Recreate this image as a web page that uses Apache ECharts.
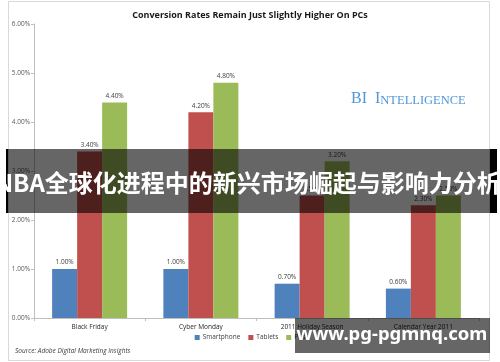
<!DOCTYPE html>
<html><head><meta charset="utf-8">
<script src="https://cdn.jsdelivr.net/npm/echarts@6/dist/echarts.min.js"></script>
<style>html,body{margin:0;padding:0;background:#fff}#c{width:500px;height:362px}</style>
</head><body><div id="c"></div>
<script>
const categories = ['Black Friday', 'Cyber Monday', '2011 Holiday Season', 'Calendar Year 2011'];
const smartphone = [1.0, 1.0, 0.7, 0.6];
const tablets = [3.4, 4.2, 2.5, 2.3];
const pcs = [4.4, 4.8, 3.2, 2.5];
const yTicks = [0, 1, 2, 3, 4, 5, 6];
const titleText = 'Conversion Rates Remain Just Slightly Higher On PCs';
const sourceText = 'Source: Adobe Digital Marketing Insights';
const bannerText = 'NBA全球化进程中的新兴市场崛起与影响力分析';
const watermarkText = 'www.pg-pgmnq.com';

const chart = echarts.init(document.getElementById('c'), null, {renderer: 'canvas'});
const lbl = {show: true, position: 'top', distance: 3, fontSize: 6.5, color: '#404040',
  fontFamily: 'Open Sans, sans-serif', formatter: p => p.value.toFixed(2) + '%'};
function s(name, data, color) {
  return {name, type: 'bar', data, barWidth: 25, barGap: '0%',
    itemStyle: {color}, label: lbl, emphasis: {disabled: true}};
}
chart.setOption({
  animation: false,
  title: {text: titleText, left: 'center', top: 6,
    textStyle: {fontSize: 9, fontWeight: 'bold', color: '#1a1a1a', fontFamily: 'Open Sans, sans-serif'}},
  grid: {left: 34, right: 21, top: 24, bottom: 44},
  legend: {bottom: 16, left: 'center', itemWidth: 5, itemHeight: 5, itemGap: 8,
    icon: 'rect', textStyle: {fontSize: 6.5, color: '#404040', padding: [0, 0, 0, -2], fontFamily: 'Open Sans, sans-serif'},
    data: ['Smartphone', 'Tablets', 'PCs']},
  xAxis: {type: 'category', data: categories,
    axisLine: {lineStyle: {color: '#bfbfbf'}},
    axisTick: {show: true, length: 3, lineStyle: {color: '#bfbfbf'}},
    axisLabel: {fontSize: 6.5, color: '#262626', margin: 6, fontFamily: 'Open Sans, sans-serif'}},
  yAxis: {type: 'value', min: yTicks[0], max: yTicks[yTicks.length - 1], interval: 1,
    axisLine: {show: true, lineStyle: {color: '#bfbfbf'}},
    axisTick: {show: true, length: 3, lineStyle: {color: '#bfbfbf'}},
    splitLine: {show: false},
    axisLabel: {fontSize: 6.5, color: '#595959', margin: 4, fontFamily: 'Open Sans, sans-serif',
      formatter: v => v.toFixed(2) + '%'}},
  series: [s('Smartphone', smartphone, '#4f81bd'), s('Tablets', tablets, '#c0504d'), s('PCs', pcs, '#9bbb59')],
  graphic: [
    {type: 'rect', shape: {x: 8.5, y: 1.5, width: 481, height: 359}, style: {fill: 'none', stroke: '#d9d9d9', lineWidth: 1}, z: -1},
    {type: 'text', left: 15, top: 348, style: {text: sourceText, fontSize: 6.5, fontStyle: 'italic', fill: '#404040', fontFamily: 'Open Sans, sans-serif'}},
    {type: 'text', left: 351, top: 91, style: {
      text: '{a|BI  I}{b|NTELLIGENCE}', rich: {
        a: {fontSize: 16, fill: '#4f97d8', fontFamily: 'Liberation Serif, serif', verticalAlign: 'bottom'},
        b: {fontSize: 12.5, fill: '#4f97d8', fontFamily: 'Liberation Serif, serif', verticalAlign: 'bottom'}}}},
    {type: 'rect', shape: {x: 6, y: 149, width: 484, height: 64}, style: {fill: 'rgba(0,0,0,0.6)'}, z: 100},
    {type: 'rect', shape: {x: 6, y: 149, width: 2, height: 64}, style: {fill: '#000'}, z: 100},
    {type: 'rect', shape: {x: 490, y: 149, width: 7, height: 64}, style: {fill: '#000'}, z: 100},
    {type: 'text', x: 248, y: 183, style: {text: bannerText, fontSize: 24, fontWeight: 'bold', fill: '#fff',
      align: 'center', verticalAlign: 'middle', fontFamily: 'Noto Sans CJK SC, sans-serif'}, z: 101},
    {type: 'rect', shape: {x: 295, y: 318, width: 195, height: 35}, style: {fill: 'rgba(0,0,0,0.6)'}, z: 100},
    {type: 'text', x: 392, y: 335, style: {text: watermarkText, fontSize: 18.5, fontWeight: 'bold', fill: '#fff',
      align: 'center', verticalAlign: 'middle', fontFamily: 'Noto Sans, sans-serif'}, z: 101}
  ]
});
</script></body></html>
